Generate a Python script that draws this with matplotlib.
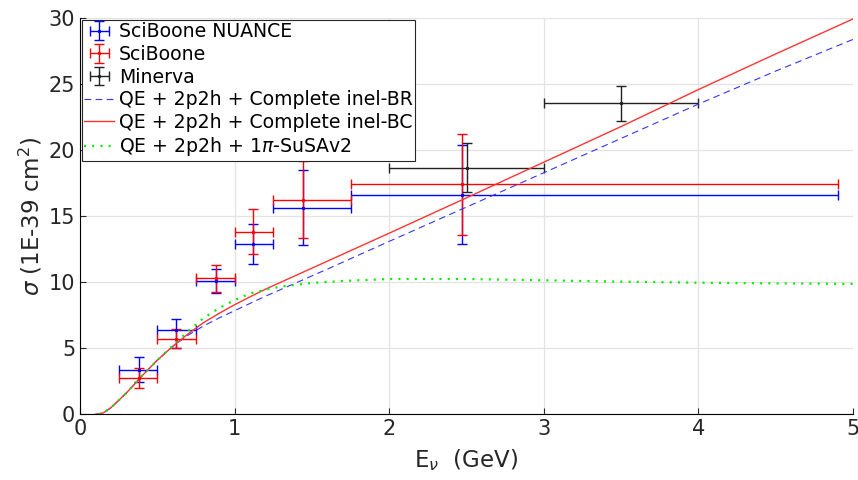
import numpy as np
import matplotlib
matplotlib.use("Agg")
from matplotlib import pyplot as plt

# SciBooNE NUANCE (blue)
nuance_x = [0.38, 0.62, 0.88, 1.12, 1.44, 2.47]
nuance_xlo = [0.25, 0.50, 0.75, 1.00, 1.25, 1.75]
nuance_xhi = [0.50, 0.75, 1.00, 1.25, 1.75, 4.90]
nuance_y = [3.37, 6.38, 10.12, 12.93, 15.64, 16.65]
nuance_ylo = [2.43, 5.01, 9.20, 11.41, 12.83, 12.93]
nuance_yhi = [4.35, 7.21, 11.00, 14.43, 18.47, 20.40]

# SciBooNE (red)
sb_x = [0.38, 0.62, 0.88, 1.12, 1.44, 2.47]
sb_xlo = [0.25, 0.50, 0.75, 1.00, 1.25, 1.75]
sb_xhi = [0.50, 0.75, 1.00, 1.25, 1.75, 4.90]
sb_y = [2.78, 5.74, 10.33, 13.82, 16.25, 17.46]
sb_ylo = [2.00, 5.03, 9.29, 12.15, 13.36, 13.60]
sb_yhi = [3.49, 6.48, 11.31, 15.54, 19.18, 21.26]

# Minerva (black)
mi_x = [2.5, 3.5]
mi_xlo = [2.0, 3.0]
mi_xhi = [3.0, 4.0]
mi_y = [18.68, 23.56]
mi_ylo = [16.86, 22.22]
mi_yhi = [20.55, 24.90]

# model curves
e_br = [0.10, 0.15, 0.20, 0.25, 0.30, 0.35, 0.40, 0.50, 0.60, 0.70, 0.80, 0.90, 1.00,
        1.10, 1.20, 1.40, 1.60, 1.80, 2.00, 2.50, 3.00, 3.50, 4.00, 4.50, 5.00]
sig_br = [0.0, 0.1, 0.5, 1.05, 1.62, 2.25, 2.9, 4.1, 5.15, 6.0, 6.7, 7.3, 7.85,
          8.4, 8.95, 9.97, 11.0, 12.05, 13.1, 15.7, 18.3, 20.9, 23.5, 26.0, 28.4]
e_bc = e_br
sig_bc = [0.0, 0.1, 0.5, 1.05, 1.62, 2.25, 2.9, 4.1, 5.15, 6.1, 6.95, 7.65, 8.3,
          8.9, 9.48, 10.54, 11.6, 12.66, 13.72, 16.4, 19.1, 21.8, 24.6, 27.3, 29.95]
e_pi = [0.12, 0.15, 0.20, 0.25, 0.30, 0.35, 0.40, 0.50, 0.60, 0.70, 0.80, 0.90, 1.00,
        1.10, 1.20, 1.30, 1.40, 1.50, 1.70, 2.00, 2.50, 3.00, 3.50, 4.00, 4.50, 5.00]
sig_pi = [0.0, 0.1, 0.5, 1.05, 1.62, 2.25, 2.9, 4.1, 5.2, 6.3, 7.3, 8.05, 8.65,
          9.15, 9.45, 9.67, 9.82, 9.95, 10.1, 10.25, 10.25, 10.15, 10.05, 9.97, 9.92, 9.88]

plt.rcParams["font.family"] = "DejaVu Sans"
fig = plt.figure(figsize=(8.58, 4.8), dpi=100)
ax = fig.add_axes([80 / 858, 1 - 414.3 / 480, 773 / 858, 396 / 480])


def draw(x, xlo, xhi, y, ylo, yhi, color, label):
    xerr = [np.array(x) - np.array(xlo), np.array(xhi) - np.array(x)]
    yerr = [np.array(y) - np.array(ylo), np.array(yhi) - np.array(y)]
    return ax.errorbar(x, y, xerr=xerr, yerr=yerr, fmt=".", color=color, ms=3,
                       elinewidth=1, capsize=3.5, capthick=1, label=label)


h1 = draw(nuance_x, nuance_xlo, nuance_xhi, nuance_y, nuance_ylo, nuance_yhi, "#0000ff", "SciBoone NUANCE")
h2 = draw(sb_x, sb_xlo, sb_xhi, sb_y, sb_ylo, sb_yhi, "#ff0000", "SciBoone")
h3 = draw(mi_x, mi_xlo, mi_xhi, mi_y, mi_ylo, mi_yhi, "#222222", "Minerva")

h4, = ax.plot(e_br, sig_br, color="#3333ff", lw=0.8, dashes=(6, 4), label="QE + 2p2h + Complete inel-BR")
h5, = ax.plot(e_bc, sig_bc, color="#ff3333", lw=1.0, label="QE + 2p2h + Complete inel-BC")
h6, = ax.plot(e_pi, sig_pi, color="#00ee00", lw=1.6, dashes=(0.9, 2.8), label=r"QE + 2p2h + 1$\pi$-SuSAv2")

ax.set_xlim(0, 5)
ax.set_ylim(0, 30)
ax.set_xticks([0, 1, 2, 3, 4, 5])
ax.set_yticks([0, 5, 10, 15, 20, 25, 30])
ax.grid(True, color="#e3e3e3", lw=0.9)
ax.set_axisbelow(True)
ax.spines["top"].set_visible(False)
ax.spines["right"].set_visible(False)
ax.tick_params(direction="in", labelsize=15, length=4, colors="#262626")
ax.set_xlabel(r"E$_\nu$  (GeV)", fontsize=16.5, color="#262626", labelpad=6)
ax.set_ylabel(r"$\sigma$ (1E-39 cm$^2$)", fontsize=16.5, color="#262626", labelpad=3)

leg = ax.legend(handles=[h1, h2, h3, h4, h5, h6], loc="upper left", fontsize=13.6,
                frameon=True, fancybox=False, edgecolor="#262626", framealpha=1,
                borderaxespad=0.1, handlelength=1.6, handletextpad=0.25,
                labelspacing=0.19, borderpad=0.12)
leg.get_frame().set_linewidth(0.8)

fig.savefig("out.png", dpi=100)
